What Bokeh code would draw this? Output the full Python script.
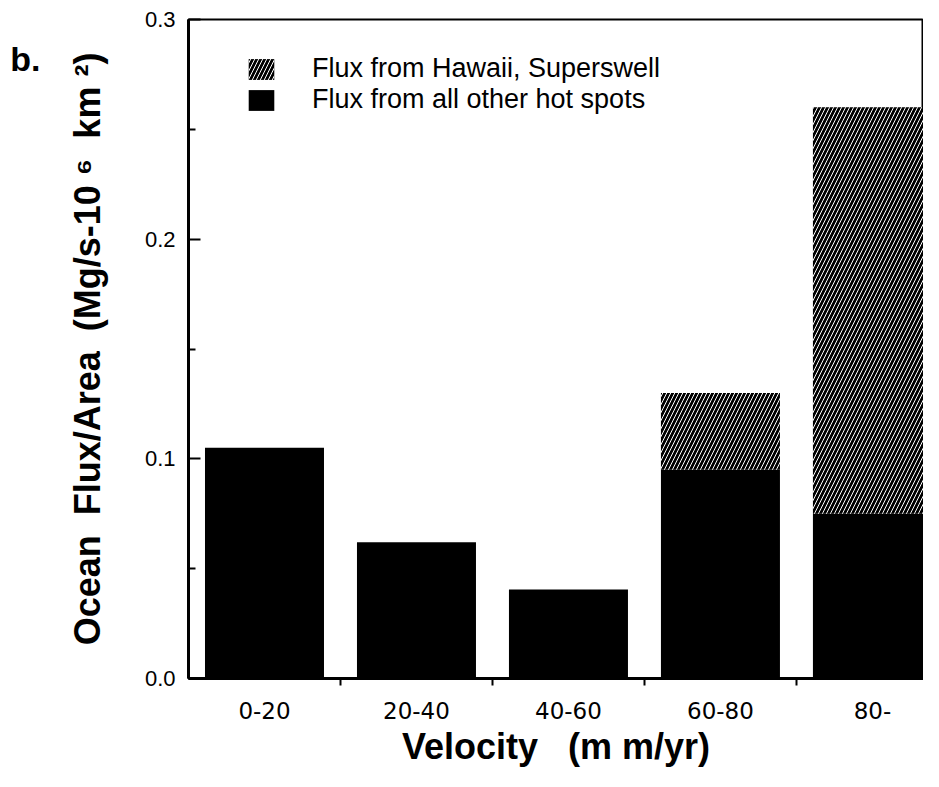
from bokeh.plotting import figure
from bokeh.models import (ColumnDataSource, FixedTicker, Legend, LegendItem, LinearAxis,
                          PrintfTickFormatter, Range1d)
from bokeh.embed import file_html
from bokeh.resources import INLINE

# ---- data ----
categories = ["0-20", "20-40", "40-60", "60-80", "80-"]
other_flux = [0.105, 0.062, 0.0405, 0.095, 0.075]     # Flux from all other hot spots
hawaii_flux = [0.0, 0.0, 0.0, 0.035, 0.185]           # Flux from Hawaii, Superswell
y_ticks = [0.0, 0.1, 0.2, 0.3]

centers = [i + 0.5 for i in range(len(categories))]
boundaries = [float(i) for i in range(1, len(categories))]
totals = [o + h for o, h in zip(other_flux, hawaii_flux)]
y_minor = [(a + b) / 2 for a, b in zip(y_ticks[:-1], y_ticks[1:])]

FONT = "Liberation Sans"
NB = "\u00a0"

p = figure(width=923, height=771, output_backend="svg", toolbar_location=None,
           x_range=Range1d(0, 4.836), y_range=Range1d(0, 0.3),
           min_border_left=188, min_border_right=0, min_border_top=19,
           min_border_bottom=93)
p.xgrid.visible = False
p.ygrid.visible = False
p.outline_line_color = "black"
p.outline_line_width = 2
p.background_fill_color = "white"
p.border_fill_color = "white"

src = ColumnDataSource(dict(x=centers, other=other_flux, total=totals))
r_other = p.vbar(x="x", width=0.783, bottom=0, top="other", source=src,
                 fill_color="black", line_color=None)
r_haw = p.vbar(x="x", width=0.783, bottom="other", top="total", source=src,
               fill_color="black", line_color=None, hatch_pattern="/",
               hatch_color="white", hatch_scale=8, hatch_weight=1.0)

legend = Legend(items=[LegendItem(label="Flux from Hawaii, Superswell", renderers=[r_haw]),
                       LegendItem(label="Flux from all other hot spots", renderers=[r_other])],
                location=(57, 563), orientation="vertical",
                border_line_color=None, background_fill_alpha=0,
                glyph_width=32, glyph_height=26, label_height=26,
                label_standoff=35, spacing=0, padding=0, margin=0,
                label_text_font=FONT, label_text_font_size="27px",
                label_text_color="black")
p.add_layout(legend)

# x axis
xa = p.xaxis[0]
xa.ticker = FixedTicker(ticks=centers, minor_ticks=boundaries)
xa.major_label_overrides = {c: lab for c, lab in zip(centers, categories)}
xa.major_tick_in = 0
xa.major_tick_out = 0
xa.minor_tick_in = 0
xa.minor_tick_out = 7
xa.minor_tick_line_width = 2
xa.axis_line_width = 3
xa.major_label_text_font = "DejaVu Sans"
xa.major_label_text_font_size = "23px"
xa.major_label_text_color = "black"
xa.major_label_standoff = 16
xa.axis_label = "Velocity" + NB + NB + " (m m/yr)"
xa.axis_label_text_font = FONT
xa.axis_label_text_font_style = "bold"
xa.axis_label_text_font_size = "36px"
xa.axis_label_text_color = "black"
xa.axis_label_standoff = 4

# y axis
ya = p.yaxis[0]
ya.ticker = FixedTicker(ticks=y_ticks, minor_ticks=y_minor)
ya.formatter = PrintfTickFormatter(format="%.1f")
ya.major_tick_in = 12
ya.major_tick_out = 0
ya.minor_tick_in = 7
ya.minor_tick_out = 0
ya.major_tick_line_width = 2
ya.minor_tick_line_width = 2
ya.axis_line_width = 3
ya.major_label_text_font = FONT
ya.major_label_text_font_size = "22px"
ya.major_label_text_color = "black"
ya.major_label_standoff = 13
ya.axis_label = "Ocean" + NB + " Flux/Area" + NB + " (Mg/s-10 \u2076" + NB + " km \u00b2)"
ya.axis_label_text_font = FONT
ya.axis_label_text_font_style = "bold"
ya.axis_label_text_font_size = "36px"
ya.axis_label_text_color = "black"
ya.axis_label_standoff = 34

# panel tag "b." as an outer, line-less axis label
tag_pos = 0.282
tag_axis = LinearAxis(ticker=FixedTicker(ticks=[tag_pos], minor_ticks=[]),
                      major_label_overrides={tag_pos: "b."},
                      axis_line_color=None, major_tick_line_color=None,
                      minor_tick_line_color=None, major_tick_in=0, major_tick_out=0,
                      minor_tick_in=0, minor_tick_out=0,
                      major_label_text_font=FONT, major_label_text_font_style="bold",
                      major_label_text_font_size="34px", major_label_text_color="black",
                      major_label_standoff=23)
p.add_layout(tag_axis, "left")

open("out.html", "w").write(file_html(p, INLINE))
